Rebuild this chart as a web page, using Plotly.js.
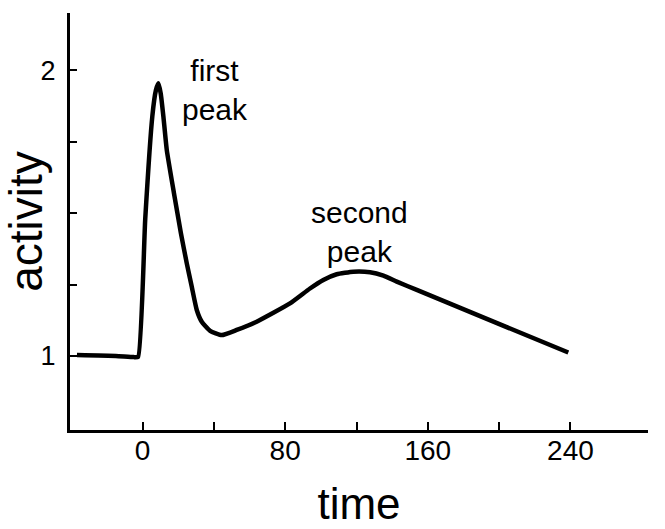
<!DOCTYPE html>
<html>
<head>
<meta charset="utf-8">
<script src="https://cdn.plot.ly/plotly-3.0.1.min.js"></script>
<style>html,body{margin:0;padding:0;background:#fff;}#chart{width:665px;height:529px;}</style>
</head>
<body>
<div id="chart"></div>
<script>
// data
const timeValues = [-36.8, -15, -5, -2.5, 1.5, 5.5, 7.5, 8.9, 10.2, 11.7, 13.6, 17.6, 21.5, 24.8, 27.6, 30.4, 33.2, 37.9, 44.4, 52.8, 64, 82.7, 93.9, 101.4, 108.9, 118.2, 127.6, 135.1, 142.6, 153.8, 238.8];
const activityValues = [1.003, 1.0, 0.996, 0.997, 1.48, 1.84, 1.93, 1.954, 1.918, 1.837, 1.72, 1.57, 1.43, 1.324, 1.242, 1.161, 1.12, 1.088, 1.073, 1.091, 1.12, 1.184, 1.236, 1.266, 1.286, 1.295, 1.293, 1.281, 1.26, 1.231, 1.012];
const xTickVals = [0, 40, 80, 120, 160, 200, 240];
const xTickText = ["0", "", "80", "", "160", "", "240"];
const yTickVals = [1, 1.25, 1.5, 1.75, 2];
const yTickText = ["1", "", "", "", "2"];
const annoLabels = ["first<br>peak", "second<br>peak"];
const annoX = [40.7, 121.4];
const annoY = [1.93, 1.435];

const font = "Liberation Sans, Arial, sans-serif";
const trace = {
  x: timeValues, y: activityValues, type: "scatter", mode: "lines",
  line: {color: "#000", width: 4.5, shape: "spline", smoothing: 0.45},
  hoverinfo: "skip"
};
const layout = {
  width: 665, height: 529,
  margin: {l: 70, r: 17, t: 13, b: 99},
  paper_bgcolor: "#fff", plot_bgcolor: "#fff",
  showlegend: false,
  font: {family: font, color: "#000"},
  xaxis: {
    range: [-40.7, 283.5], showgrid: false, zeroline: false,
    showline: true, linecolor: "#000", linewidth: 3,
    ticks: "inside", ticklen: 8, tickwidth: 2, tickcolor: "#000",
    tickvals: xTickVals, ticktext: xTickText,
    tickfont: {size: 28, family: font, color: "#000"},
    ticklabelstandoff: -7,
    title: {text: "time", font: {size: 44, family: font, color: "#000"}, standoff: 24}
  },
  yaxis: {
    range: [0.741, 2.2], showgrid: false, zeroline: false,
    showline: true, linecolor: "#000", linewidth: 3,
    ticks: "inside", ticklen: 7, tickwidth: 2, tickcolor: "#000",
    tickvals: yTickVals, ticktext: yTickText,
    tickfont: {size: 27, family: font, color: "#000"},
    ticklabelstandoff: 6,
    title: {text: "activity", font: {size: 46, family: font, color: "#000"}, standoff: 5}
  },
  annotations: annoLabels.map((t, i) => ({
    text: t, x: annoX[i], y: annoY[i], xref: "x", yref: "y",
    showarrow: false, xanchor: "center", yanchor: "middle",
    font: {size: 30, family: font, color: "#000"}
  }))
};
Plotly.newPlot("chart", [trace], layout, {displayModeBar: false, staticPlot: true});
</script>
</body>
</html>
